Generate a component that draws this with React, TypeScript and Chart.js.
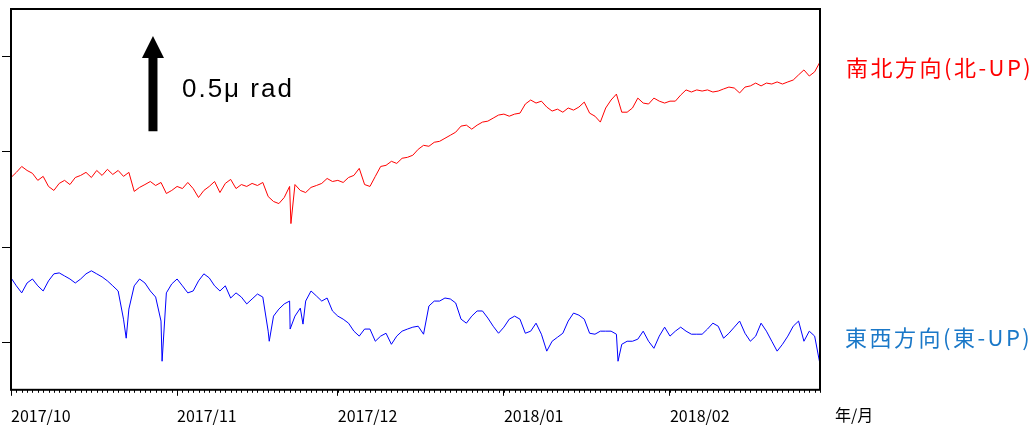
import React, { useEffect, useRef } from 'react';
import { Chart, registerables } from 'chart.js';

Chart.register(...registerables);

// Days counted from 2017/10/01
const totalDays = 151;
const monthTickDays = [0, 31, 61, 92, 123];
const monthTickLabels = ['2017/10', '2017/11', '2017/12', '2018/01', '2018/02'];
const axisUnitLabel = '年/月';
const yTickValues = [0, 0.5, 1.0, 1.5];

const seriesLabels = ['南北方向(北-UP)', '東西方向(東-UP)'];

// 南北方向 (μrad), one value per day
const nsValues = [
  0.865, 0.892, 0.923, 0.902, 0.887, 0.850, 0.871, 0.818, 0.797, 0.834,
  0.850, 0.828, 0.865, 0.876, 0.892, 0.865, 0.902, 0.876, 0.908, 0.881,
  0.902, 0.871, 0.892, 0.792, 0.813, 0.828, 0.844, 0.823, 0.839, 0.781,
  0.797, 0.818, 0.807, 0.839, 0.807, 0.760, 0.797, 0.818, 0.844, 0.786,
  0.834, 0.855, 0.807, 0.828, 0.818, 0.834, 0.823, 0.839, 0.765, 0.739,
  0.728, 0.760, 0.818, 0.828, 0.797, 0.786, 0.813, 0.823, 0.834, 0.860,
  0.844, 0.850, 0.839, 0.865, 0.876, 0.913, 0.828, 0.818, 0.871, 0.923,
  0.929, 0.950, 0.939, 0.966, 0.971, 0.982, 1.013, 1.034, 1.029, 1.050,
  1.055, 1.071, 1.087, 1.103, 1.135, 1.140, 1.119, 1.140, 1.156, 1.161,
  1.177, 1.193, 1.198, 1.187, 1.198, 1.203, 1.251, 1.272, 1.256, 1.266,
  1.235, 1.214, 1.224, 1.208, 1.230, 1.219, 1.235, 1.261, 1.203, 1.187,
  1.156, 1.230, 1.272, 1.303, 1.208, 1.208, 1.230, 1.282, 1.256, 1.251,
  1.282, 1.266, 1.256, 1.266, 1.266, 1.298, 1.325, 1.314, 1.325, 1.319,
  1.325, 1.314, 1.319, 1.330, 1.340, 1.335, 1.309, 1.340, 1.346, 1.361,
  1.346, 1.361, 1.356, 1.367, 1.356, 1.367, 1.377, 1.404, 1.430, 1.398,
  1.420, 1.472,
];
const nsSpikeDays = [52.25];
const nsSpikeValues = [0.623];

// 東西方向 (μrad), one value per day
const ewValues = [
  0.338, 0.296, 0.259, 0.311, 0.332, 0.296, 0.269, 0.322, 0.359, 0.364,
  0.348, 0.332, 0.311, 0.332, 0.359, 0.375, 0.359, 0.343, 0.322, 0.296,
  0.269, 0.121, 0.174, 0.296, 0.332, 0.311, 0.269, 0.237, 0.111, 0.259,
  0.306, 0.332, 0.296, 0.259, 0.269, 0.322, 0.359, 0.338, 0.296, 0.269,
  0.296, 0.232, 0.259, 0.237, 0.201, 0.227, 0.253, 0.237, 0.058, 0.137,
  0.174, 0.201, 0.216, 0.137, 0.179, 0.216, 0.269, 0.243, 0.216, 0.232,
  0.164, 0.137, 0.121, 0.100, 0.058, 0.032, 0.069, 0.069, 0.005, 0.032,
  0.047, -0.011, 0.032, 0.058, 0.069, 0.079, 0.084, 0.042, 0.190, 0.216,
  0.216, 0.232, 0.227, 0.206, 0.121, 0.100, 0.137, 0.164, 0.164, 0.127,
  0.084, 0.047, 0.079, 0.121, 0.137, 0.121, 0.047, 0.058, 0.100, 0.042,
  -0.047, 0.005, 0.026, 0.047, 0.111, 0.153, 0.142, 0.121, 0.047, 0.042,
  0.058, 0.058, 0.058, 0.042, -0.011, 0.005, 0.005, 0.016, 0.058, 0.005,
  -0.032, 0.032, 0.079, 0.032, 0.058, 0.079, 0.058, 0.042, 0.042, 0.042,
  0.069, 0.100, 0.084, 0.021, 0.047, 0.079, 0.111, 0.047, 0.005, 0.032,
  0.100, 0.058, 0.005, -0.047, -0.011, 0.032, 0.084, 0.111, 0.005, 0.058,
  0.032, -0.116,
];
const ewSpikeDays = [21.5, 28.2, 48.2, 52.1, 54.5, 113.3];
const ewSpikeValues = [0.021, -0.1, 0.005, 0.069, 0.095, -0.1];

// Scale bar: 0.5 μrad arrow
const scaleBarDay = 26.5;
const scaleBarBase = 1.108;
const scaleBarValue = 0.5;
const scaleBarLabel = '0.5μ rad';

function buildPoints(values: number[], spikeDays: number[], spikeValues: number[]) {
  const pts = values.map((v, i) => ({ x: i, y: v }));
  spikeDays.forEach((d, j) => pts.push({ x: d, y: spikeValues[j] }));
  pts.sort((a, b) => a.x - b.x);
  return pts;
}

const decorPlugin = {
  id: 'decor',
  afterDraw(chart: any) {
    const { ctx, chartArea: a, scales } = chart;
    const x = scales.x;
    const y = scales.y;
    ctx.save();
    // minor daily ticks
    ctx.strokeStyle = '#000';
    ctx.lineWidth = 1;
    ctx.beginPath();
    for (let d = 0; d <= totalDays; d++) {
      const px = Math.round(x.getPixelForValue(d)) + 0.5;
      ctx.moveTo(px, a.bottom);
      ctx.lineTo(px, a.bottom + 3);
    }
    ctx.stroke();
    // frame
    ctx.lineWidth = 2;
    ctx.strokeRect(a.left, a.top, a.right - a.left, a.bottom - a.top);

    // scale arrow
    const ax = x.getPixelForValue(scaleBarDay);
    const yb = y.getPixelForValue(scaleBarBase);
    const yt = y.getPixelForValue(scaleBarBase + scaleBarValue);
    const headH = 22;
    ctx.fillStyle = '#000';
    ctx.beginPath();
    ctx.moveTo(ax - 4.5, yb);
    ctx.lineTo(ax - 4.5, yt + headH);
    ctx.lineTo(ax - 11, yt + headH);
    ctx.lineTo(ax, yt);
    ctx.lineTo(ax + 11, yt + headH);
    ctx.lineTo(ax + 4.5, yt + headH);
    ctx.lineTo(ax + 4.5, yb);
    ctx.closePath();
    ctx.fill();

    ctx.font = '26px "Liberation Sans", Arial, sans-serif';
    (ctx as any).letterSpacing = '2px';
    ctx.textAlign = 'left';
    ctx.textBaseline = 'alphabetic';
    ctx.fillText(scaleBarLabel, ax + 29, 97);

    // series labels
    ctx.font = '22px "Noto Sans CJK JP", sans-serif';
    (ctx as any).letterSpacing = '2.5px';
    ctx.textBaseline = 'middle';
    ctx.fillStyle = '#ff0000';
    ctx.fillText(seriesLabels[0], a.right + 26, 68);
    ctx.fillStyle = '#1a78c8';
    ctx.fillText(seriesLabels[1], a.right + 25, 338);

    // unit label
    (ctx as any).letterSpacing = '0px';
    ctx.font = '16px "Noto Sans CJK JP", sans-serif';
    ctx.fillStyle = '#000';
    ctx.fillText(axisUnitLabel, a.right + 15, 415);
    ctx.restore();
  },
};

export default function App() {
  const canvasRef = useRef<HTMLCanvasElement | null>(null);

  useEffect(() => {
    const canvas = canvasRef.current;
    if (!canvas) return;
    const chart = new Chart(canvas, {
      type: 'line',
      data: {
        datasets: [
          {
            label: seriesLabels[0],
            data: buildPoints(nsValues, nsSpikeDays, nsSpikeValues),
            borderColor: '#ff0000',
            borderWidth: 1,
            pointRadius: 0,
            tension: 0,
            fill: false,
          },
          {
            label: seriesLabels[1],
            data: buildPoints(ewValues, ewSpikeDays, ewSpikeValues),
            borderColor: '#0000ff',
            borderWidth: 1,
            pointRadius: 0,
            tension: 0,
            fill: false,
          },
        ],
      },
      options: {
        animation: false,
        responsive: false,
        devicePixelRatio: 1,
        layout: { padding: { left: 2, right: 214, top: 9, bottom: 0 } },
        plugins: {
          legend: { display: false },
          tooltip: { enabled: false },
          title: { display: false },
        },
        scales: {
          x: {
            type: 'linear',
            min: 0,
            max: totalDays,
            afterBuildTicks: (s: any) => {
              s.ticks = monthTickDays.map((v) => ({ value: v }));
            },
            ticks: {
              autoSkip: false,
              maxRotation: 0,
              minRotation: 0,
              align: 'start',
              padding: 11,
              color: '#000',
              font: { family: '"Noto Sans CJK JP", sans-serif', size: 16 },
              callback: (v: any) => {
                const i = monthTickDays.indexOf(Number(v));
                return i >= 0 ? monthTickLabels[i] : '';
              },
            },
            grid: {
              drawOnChartArea: false,
              drawTicks: true,
              tickLength: 6,
              tickColor: '#000',
              tickWidth: 1,
            },
            border: { display: false },
          },
          y: {
            type: 'linear',
            min: -0.25,
            max: 1.75,
            afterBuildTicks: (s: any) => {
              s.ticks = yTickValues.map((v) => ({ value: v }));
            },
            ticks: { display: false },
            grid: {
              drawOnChartArea: false,
              drawTicks: true,
              tickLength: 9,
              tickColor: '#000',
              tickWidth: 1,
            },
            border: { display: false },
          },
        },
      },
      plugins: [decorPlugin],
    } as any);
    return () => chart.destroy();
  }, []);

  return (
    <div style={{ position: 'absolute', left: 0, top: 0, width: 1034, height: 425, overflow: 'hidden', background: '#fff' }}>
      <canvas ref={canvasRef} width={1034} height={437} style={{ display: 'block' }} />
    </div>
  );
}
